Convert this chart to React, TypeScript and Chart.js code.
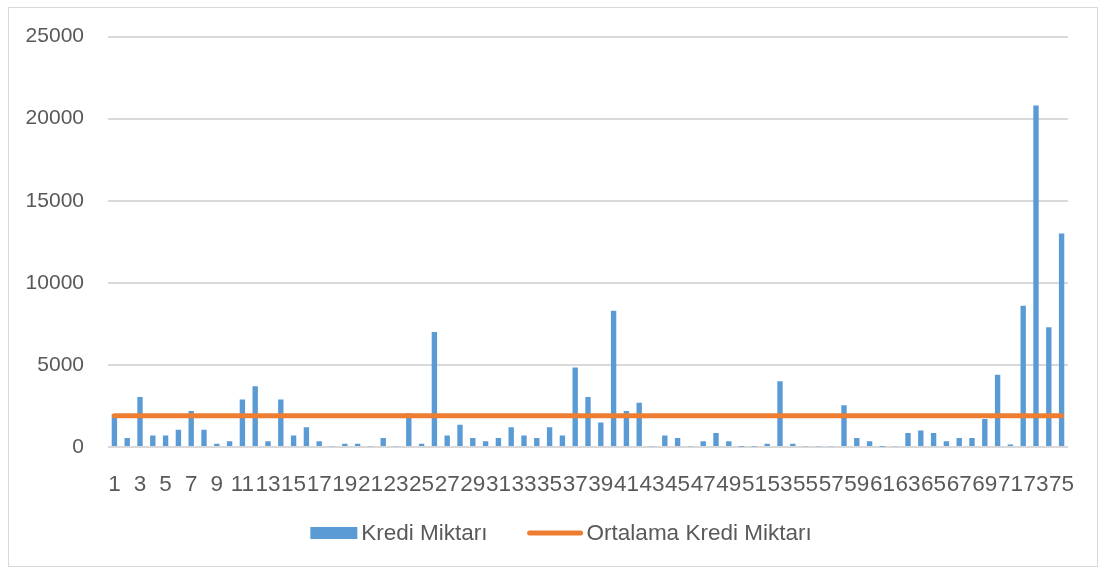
import React, { useEffect, useRef } from 'react';
import { Chart, registerables } from 'chart.js';

Chart.register(...registerables);

const categories: string[] = [
  '1', '2', '3', '4', '5', '6', '7', '8', '9', '10',
  '11', '12', '13', '14', '15', '16', '17', '18', '19', '20',
  '21', '22', '23', '24', '25', '26', '27', '28', '29', '30',
  '31', '32', '33', '34', '35', '36', '37', '38', '39', '40',
  '41', '42', '43', '44', '45', '46', '47', '48', '49', '50',
  '51', '52', '53', '54', '55', '56', '57', '58', '59', '60',
  '61', '62', '63', '64', '65', '66', '67', '68', '69', '70',
  '71', '72', '73', '74', '75',
];

const krediMiktari: number[] = [
  2000, 550, 3050, 700, 700, 1050, 2200, 1050, 200, 350,
  2900, 3700, 350, 2900, 700, 1200, 350, 40, 200, 200,
  50, 550, 40, 2050, 200, 7000, 700, 1350, 550, 350,
  550, 1200, 700, 550, 1200, 700, 4850, 3050, 1500, 8300,
  2200, 2700, 40, 700, 550, 40, 350, 850, 350, 20,
  30, 200, 4000, 200, 40, 40, 40, 2550, 550, 350,
  20, 40, 850, 1000, 850, 350, 550, 550, 1700, 4400,
  150, 8600, 20800, 7300, 13000,
];

const ortalamaKrediMiktari: number[] = [
  1900, 1900, 1900, 1900, 1900, 1900, 1900, 1900, 1900, 1900,
  1900, 1900, 1900, 1900, 1900, 1900, 1900, 1900, 1900, 1900,
  1900, 1900, 1900, 1900, 1900, 1900, 1900, 1900, 1900, 1900,
  1900, 1900, 1900, 1900, 1900, 1900, 1900, 1900, 1900, 1900,
  1900, 1900, 1900, 1900, 1900, 1900, 1900, 1900, 1900, 1900,
  1900, 1900, 1900, 1900, 1900, 1900, 1900, 1900, 1900, 1900,
  1900, 1900, 1900, 1900, 1900, 1900, 1900, 1900, 1900, 1900,
  1900, 1900, 1900, 1900, 1900,
];

const yTicks: number[] = [0, 5000, 10000, 15000, 20000, 25000];

const seriesNames: string[] = ['Kredi Miktarı', 'Ortalama Kredi Miktarı'];

const BLUE = '#5B9BD5';
const ORANGE = '#ED7D31';
const TEXT = '#595959';
const GRID = '#d9d9d9';
const FONT = '"Liberation Sans", Arial, sans-serif';

const legendPlugin = {
  id: 'customLegend',
  afterDraw(chart: any) {
    const ctx = chart.ctx as CanvasRenderingContext2D;
    ctx.save();
    ctx.font = `22.5px ${FONT}`;
    ctx.textBaseline = 'middle';
    ctx.textAlign = 'left';
    const y = 533;
    const boxW = 47;
    const boxH = 12;
    const lineW = 55;
    const gapText = 4;
    const gapItems = 40;
    const w1 = ctx.measureText(seriesNames[0]).width;
    const w2 = ctx.measureText(seriesNames[1]).width;
    const total = boxW + gapText + w1 + gapItems + lineW + gapText + w2;
    let x = 561 - total / 2;
    ctx.fillStyle = BLUE;
    ctx.fillRect(x, y - boxH / 2, boxW, boxH);
    x += boxW + gapText;
    ctx.fillStyle = TEXT;
    ctx.fillText(seriesNames[0], x, y + 1);
    x += w1 + gapItems;
    ctx.strokeStyle = ORANGE;
    ctx.lineWidth = 5;
    ctx.lineCap = 'round';
    ctx.beginPath();
    ctx.moveTo(x + 2, y);
    ctx.lineTo(x + lineW - 2, y);
    ctx.stroke();
    x += lineW + gapText;
    ctx.fillStyle = TEXT;
    ctx.fillText(seriesNames[1], x, y + 1);
    ctx.restore();
  },
};

export default function App() {
  const canvasRef = useRef<HTMLCanvasElement | null>(null);

  useEffect(() => {
    if (!canvasRef.current) return;
    const chart = new Chart(canvasRef.current, {
      type: 'bar',
      data: {
        labels: categories,
        datasets: [
          {
            type: 'line',
            label: seriesNames[1],
            data: ortalamaKrediMiktari,
            borderColor: ORANGE,
            backgroundColor: ORANGE,
            borderWidth: 5,
            borderCapStyle: 'round',
            pointRadius: 0,
            pointHoverRadius: 0,
            tension: 0,
            order: 0,
          } as any,
          {
            type: 'bar',
            label: seriesNames[0],
            data: krediMiktari,
            backgroundColor: BLUE,
            borderWidth: 0,
            barPercentage: 0.42,
            categoryPercentage: 1,
            order: 1,
          } as any,
        ],
      },
      options: {
        animation: false,
        responsive: true,
        maintainAspectRatio: false,
        layout: { padding: { left: 0, right: 37, top: 36, bottom: 0 } },
        plugins: {
          legend: { display: false },
          tooltip: { enabled: false },
        },
        scales: {
          x: {
            grid: { display: false },
            border: { display: false },
            ticks: {
              autoSkip: false,
              maxRotation: 0,
              minRotation: 0,
              padding: 16,
              color: TEXT,
              font: { family: FONT, size: 22.5 },
              callback: (_v: any, i: number) => (i % 2 === 0 ? categories[i] : ''),
            },
            afterFit: (s: any) => {
              s.height = 124;
            },
          },
          y: {
            min: yTicks[0],
            max: yTicks[yTicks.length - 1],
            afterBuildTicks: (s: any) => {
              s.ticks = yTicks.map((v) => ({ value: v }));
            },
            grid: { color: GRID, lineWidth: 2, drawTicks: false },
            border: { display: false },
            ticks: {
              padding: 24,
              color: TEXT,
              font: { family: FONT, size: 21 },
              callback: (v: any) => String(v),
            },
            afterFit: (s: any) => {
              s.width = 108;
            },
          },
        },
      },
      plugins: [legendPlugin],
    });
    return () => chart.destroy();
  }, []);

  return (
    <div style={{ position: 'absolute', left: 0, top: 0, width: 1105, height: 571, background: '#fff' }}>
      <canvas ref={canvasRef} />
      <div
        style={{
          position: 'absolute',
          left: 8,
          top: 7,
          width: 1088,
          height: 558,
          border: `1px solid ${GRID}`,
          pointerEvents: 'none',
        }}
      />
    </div>
  );
}
